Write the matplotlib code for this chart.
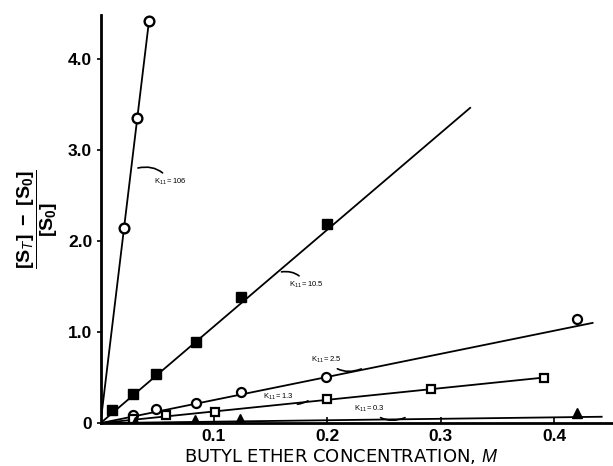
import matplotlib
matplotlib.use("Agg")
import matplotlib.pyplot as plt

# ---- data ----
x_k106 = [0.0203, 0.0318, 0.0427]
y_k106 = [2.14, 3.35, 4.41]

x_k105 = [0.0103, 0.0289, 0.0489, 0.0839, 0.1243, 0.1994]
y_k105 = [0.14, 0.32, 0.54, 0.89, 1.38, 2.19]

x_k25 = [0.029, 0.049, 0.084, 0.124, 0.199, 0.420]
y_k25 = [0.09, 0.15, 0.22, 0.34, 0.51, 1.14]

x_k13 = [0.029, 0.058, 0.101, 0.200, 0.2915, 0.391]
y_k13 = [0.05, 0.09, 0.12, 0.267, 0.37, 0.50]

x_k03 = [0.030, 0.083, 0.123, 0.420]
y_k03 = [0.01, 0.03, 0.044, 0.107]

# fitted lines: from origin to end point
fit_end_x = [0.0427, 0.326, 0.434, 0.391, 0.442]
fit_end_y = [4.41, 3.46, 1.10, 0.50, 0.07]

labels = ["106", "10.5", "2.5", "1.3", "0.3"]
label_xy = [(0.047, 2.65), (0.166, 1.52), (0.186, 0.69), (0.143, 0.286), (0.224, 0.154)]
arrow_xy = [(0.033, 2.80), (0.1596, 1.66), (0.230, 0.595), (0.183, 0.245), (0.2686, 0.06)]

xticks = [0.1, 0.2, 0.3, 0.4]
xticklabels = ["0.1", "0.2", "0.3", "0.4"]
yticks = [0, 1, 2, 3, 4]
yticklabels = ["0", "1.0", "2.0", "3.0", "4.0"]

plt.rcParams['font.family'] = ['Liberation Sans', 'DejaVu Sans']
plt.rcParams['mathtext.fontset'] = 'custom'
plt.rcParams['mathtext.rm'] = 'Liberation Sans'
plt.rcParams['mathtext.it'] = 'Liberation Sans:italic'
plt.rcParams['mathtext.bf'] = 'Liberation Sans:bold'

fig = plt.figure(figsize=(6.13, 4.66), dpi=100)
ax = fig.add_axes([0.164, 0.092, 0.836, 0.876])

lw = 1.3
# fit lines
for ex, ey in zip(fit_end_x, fit_end_y):
    ax.plot([0, ex], [0, ey], color='black', lw=lw, zorder=2)

ms = 6.5
ax.plot(x_k106, y_k106, 'o', ms=ms + 0.5, mfc='white', mec='black', mew=1.7, zorder=3)
ax.plot(x_k105, y_k105, 's', ms=ms, mfc='black', mec='black', mew=1.0, zorder=3)
ax.plot(x_k25, y_k25, 'o', ms=ms, mfc='white', mec='black', mew=1.6, zorder=3)
ax.plot(x_k13, y_k13, 's', ms=ms - 0.5, mfc='white', mec='black', mew=1.6, zorder=3)
ax.plot(x_k03, y_k03, '^', ms=ms, mfc='black', mec='black', mew=1.0, zorder=3)

for lab, (lx, ly), (axx, ayy) in zip(labels, label_xy, arrow_xy):
    ax.annotate(r'$\mathrm{K_{11}=' + lab + '}$', xy=(axx, ayy), xytext=(lx, ly),
                fontsize=5.5, ha='left', va='center',
                arrowprops=dict(arrowstyle='-', lw=1.2, color='black',
                                connectionstyle='arc3,rad=0.35',
                                shrinkA=1, shrinkB=0))

ax.set_xlim(0, 0.452)
ax.set_ylim(0, 4.48)
ax.spines['top'].set_visible(False)
ax.spines['right'].set_visible(False)
ax.spines['left'].set_linewidth(2.0)
ax.spines['bottom'].set_linewidth(2.0)

ax.set_xticks(xticks)
ax.set_xticklabels(xticklabels, fontsize=12.5, fontweight='bold')
ax.set_yticks(yticks)
ax.set_yticklabels(yticklabels, fontsize=12.5, fontweight='bold')
ax.tick_params(axis='x', direction='in', length=4, width=1.2, pad=4)
ax.tick_params(axis='y', direction='out', length=3, width=1.2, pad=3)

ax.set_xlabel(r'BUTYL ETHER CONCENTRATION, $\mathit{M}$', fontsize=13,
              family=['DejaVu Sans'], labelpad=0)
ax.xaxis.set_label_coords(0.47, -0.058)
ax.set_ylabel(r'$\mathbf{\dfrac{[S_{\mathit{T}}]\ -\ [S_0]}{[S_0]}}$', fontsize=14, labelpad=6)

fig.savefig('out.png', dpi=100)
